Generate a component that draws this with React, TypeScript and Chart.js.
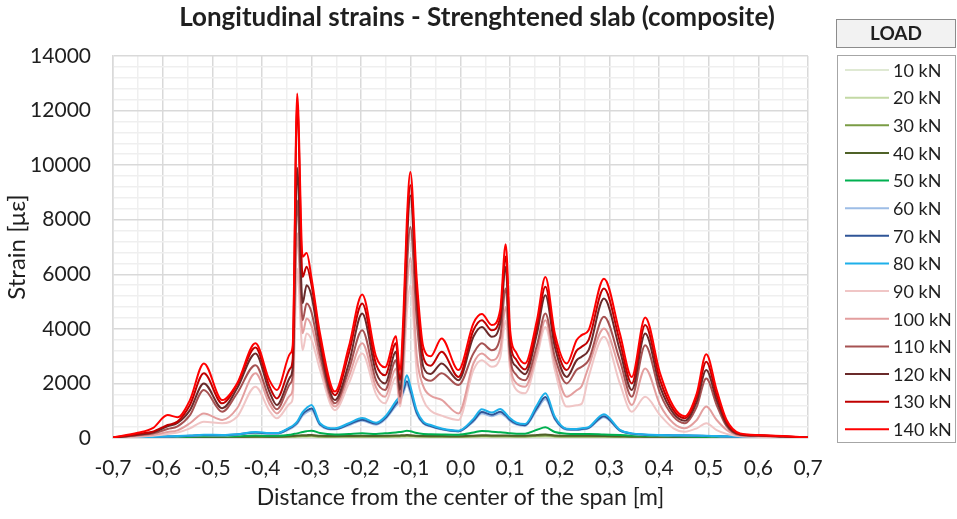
import React, { useEffect, useRef } from 'react';
import { Chart, registerables } from 'chart.js';

Chart.register(...registerables);

const X = [
  -0.70, -0.65, -0.62, -0.59, -0.57, -0.545, -0.517, -0.48,
  -0.45, -0.413, -0.385, -0.37, -0.343, -0.338, -0.329, -0.318,
  -0.31, -0.3, -0.283, -0.253, -0.225, -0.198, -0.17, -0.152,
  -0.13, -0.122, -0.115, -0.108, -0.101, -0.088, -0.075, -0.06,
  -0.038, -0.004, 0.026, 0.043, 0.063, 0.08, 0.091, 0.1,
  0.113, 0.13, 0.154, 0.171, 0.19, 0.214, 0.234, 0.244,
  0.258, 0.289, 0.321, 0.345, 0.372, 0.402, 0.429, 0.452,
  0.476, 0.495, 0.516, 0.536, 0.563, 0.6, 0.65, 0.7,
];

const LOADS = ['10 kN', '20 kN', '30 kN', '40 kN', '50 kN', '60 kN', '70 kN', '80 kN', '90 kN', '100 kN', '110 kN', '120 kN', '130 kN', '140 kN'];
const COLORS = ['#dfe9d3', '#c3d9a5', '#7a9c45', '#4f6228', '#00b050', '#9dbde6', '#2f5597', '#1eb0ea', '#f0c6c6', '#e39e9e', '#a65252', '#6a2a2a', '#c00000', '#ff0000'];

const S10 = [
  0, 2, 4, 6, 6, 8, 9, 9,
  10, 13, 12, 12, 16, 18, 21, 24,
  25, 26, 19, 16, 18, 19, 18, 19,
  21, 22, 24, 26, 25, 20, 18, 16,
  16, 15, 20, 24, 22, 22, 21, 20,
  19, 19, 26, 31, 22, 19, 19, 19,
  19, 18, 15, 13, 12, 10, 9, 9,
  8, 7, 7, 6, 5, 4, 2, 0,
];
const S20 = [
  1, 5, 9, 12, 13, 16, 18, 18,
  21, 26, 24, 24, 33, 36, 42, 48,
  50, 53, 38, 33, 36, 38, 36, 38,
  42, 45, 48, 53, 50, 41, 36, 33,
  33, 30, 41, 48, 45, 45, 42, 40,
  38, 38, 53, 62, 45, 38, 38, 38,
  38, 36, 30, 26, 24, 21, 18, 18,
  16, 15, 14, 12, 10, 8, 4, 1,
];
const S30 = [
  2, 8, 14, 18, 20, 24, 28, 28,
  32, 40, 36, 36, 50, 54, 64, 72,
  76, 80, 58, 50, 54, 58, 54, 58,
  64, 68, 72, 80, 76, 62, 54, 50,
  50, 46, 62, 72, 68, 68, 64, 60,
  58, 58, 80, 94, 68, 58, 58, 58,
  58, 54, 46, 40, 36, 32, 28, 27,
  25, 23, 21, 18, 16, 13, 7, 1,
];
const S40 = [
  2, 10, 20, 25, 30, 35, 40, 40,
  45, 55, 50, 50, 70, 75, 90, 100,
  105, 110, 80, 70, 75, 80, 75, 80,
  90, 95, 100, 110, 105, 85, 75, 70,
  70, 65, 85, 100, 95, 95, 90, 85,
  80, 80, 110, 130, 95, 80, 80, 80,
  80, 75, 65, 55, 50, 45, 40, 38,
  35, 32, 30, 25, 22, 18, 10, 2,
];
const S50 = [
  3, 15, 25, 35, 40, 50, 60, 60,
  70, 90, 80, 80, 120, 140, 170, 220,
  250, 270, 180, 130, 150, 170, 150, 170,
  200, 220, 240, 270, 250, 180, 150, 140,
  130, 120, 200, 260, 230, 210, 190, 170,
  160, 160, 300, 390, 220, 160, 150, 150,
  150, 130, 110, 90, 80, 70, 60, 55,
  50, 45, 40, 35, 30, 25, 12, 3,
];
const S60 = [
  4, 16, 30, 50, 55, 75, 100, 90,
  120, 180, 150, 150, 340, 390, 520, 820,
  940, 1020, 470, 310, 470, 630, 490, 680,
  1180, 1340, 1650, 1960, 1650, 870, 530, 420,
  310, 240, 600, 900, 800, 900, 780, 620,
  490, 440, 1030, 1420, 680, 300, 290, 310,
  350, 760, 260, 150, 110, 95, 90, 85,
  80, 70, 60, 50, 40, 30, 15, 4,
];
const S70 = [
  5, 18, 35, 55, 60, 80, 110, 100,
  130, 200, 170, 170, 370, 420, 560, 880,
  1000, 1080, 500, 330, 500, 670, 520, 720,
  1250, 1420, 1750, 2080, 1750, 920, 560, 440,
  330, 250, 640, 950, 850, 960, 830, 660,
  520, 470, 1100, 1500, 720, 320, 310, 330,
  370, 800, 280, 160, 120, 100, 95, 90,
  85, 75, 65, 55, 45, 35, 18, 5,
];
const S80 = [
  5, 20, 40, 60, 70, 90, 120, 110,
  140, 220, 180, 180, 400, 450, 600, 950,
  1100, 1210, 540, 355, 540, 730, 560, 780,
  1350, 1550, 1900, 2300, 1900, 1000, 600, 475,
  350, 270, 700, 1050, 930, 1060, 900, 720,
  560, 510, 1200, 1640, 780, 340, 330, 355,
  400, 870, 300, 170, 130, 110, 100, 100,
  90, 80, 70, 60, 50, 40, 20, 5,
];
const S90 = [
  5, 50, 80, 150, 200, 355, 600, 540,
  780, 1880, 1000, 720, 1270, 1450, 6200, 3220,
  3830, 3600, 2500, 1020, 2000, 3100, 1600, 1270,
  2240, 1150, 2300, 4600, 5600, 2400, 1400, 1000,
  820, 660, 2490, 2850, 2610, 2950, 4300, 2490,
  1760, 1640, 2980, 4070, 2490, 1150, 1200, 1250,
  2240, 3710, 2000, 960, 1510, 840, 355, 230,
  355, 540, 290, 150, 60, 40, 30, 8,
];
const S100 = [
  8, 70, 110, 220, 280, 540, 900, 660,
  1090, 2370, 1250, 900, 1570, 1800, 7500, 3840,
  4380, 4100, 2800, 1150, 2240, 3470, 1850, 1510,
  2550, 1270, 2700, 5400, 6600, 3000, 1900, 1550,
  1400, 900, 2730, 3100, 2850, 3250, 4800, 2730,
  2000, 1880, 3160, 4320, 2730, 1510, 1750, 1900,
  2610, 4010, 2490, 1210, 2550, 1210, 540, 355,
  660, 1150, 660, 300, 80, 60, 40, 10,
];
const S110 = [
  10, 100, 160, 330, 430, 840, 1760, 960,
  1640, 2670, 1450, 1050, 2000, 2300, 8700, 4320,
  4930, 4600, 3050, 1270, 2490, 3950, 2100, 1760,
  2850, 1510, 3200, 6200, 7730, 4300, 2240, 2100,
  2370, 1940, 3100, 3470, 3220, 3700, 5480, 2980,
  2300, 2120, 3400, 4560, 2980, 2000, 2500, 2610,
  2850, 4440, 2850, 1510, 3400, 1640, 780, 540,
  1150, 2180, 1210, 430, 110, 80, 50, 12,
];
const S120 = [
  12, 120, 200, 430, 550, 1020, 2000, 1090,
  1820, 3100, 1700, 1210, 2240, 2600, 9900, 4940,
  5600, 5200, 3350, 1390, 2730, 4560, 2400, 2000,
  3160, 1760, 3700, 7100, 8890, 5000, 2610, 2350,
  2730, 2120, 3710, 4070, 3710, 4200, 6270, 3220,
  2610, 2340, 3830, 5230, 3340, 2240, 2850, 2980,
  3220, 5110, 3220, 1760, 3830, 1880, 900, 630,
  1330, 2490, 1390, 500, 130, 90, 55, 15,
];
const S130 = [
  15, 150, 230, 475, 600, 1210, 2370, 1270,
  1960, 3320, 1900, 1450, 2550, 2900, 12300, 5900,
  6280, 5600, 3600, 1570, 3100, 4930, 2700, 2300,
  3470, 2120, 4000, 7500, 9260, 5300, 2980, 2650,
  3160, 2240, 3950, 4320, 3950, 4450, 6650, 3590,
  2850, 2510, 4070, 5540, 3590, 2490, 3200, 3340,
  3590, 5480, 3530, 2000, 4140, 2120, 1020, 720,
  1510, 2790, 1570, 580, 150, 100, 60, 18,
];
const S140 = [
  20, 190, 360, 840, 760, 1390, 2730, 1390,
  2000, 3470, 2120, 1760, 3100, 3400, 12630, 6640,
  6780, 5850, 3830, 1700, 3340, 5260, 2980, 2590,
  3730, 2490, 4500, 8000, 9750, 5780, 3340, 3000,
  3650, 2490, 4200, 4540, 4140, 4700, 7100, 3950,
  3100, 2730, 4320, 5900, 3830, 2730, 3590, 3770,
  3950, 5840, 3830, 2240, 4420, 2370, 1150, 800,
  1640, 3070, 1760, 660, 170, 110, 70, 20,
];

const TITLE = 'Longitudinal strains - Strenghtened slab (composite)';
const X_TITLE = 'Distance from the center of the span [m]';
const Y_TITLE = 'Strain [με]';
const LEGEND_TITLE = 'LOAD';

const FONT = 'Lato';
const TEXT = '#1f1f1f';

export default function App() {
  const ref = useRef<HTMLCanvasElement>(null);

  useEffect(() => {
    const series = [S10, S20, S30, S40, S50, S60, S70, S80, S90, S100, S110, S120, S130, S140];
    const datasets = series.map((s, i) => ({
      label: LOADS[i],
      data: X.map((x, j) => ({ x, y: s[j] })),
      borderColor: COLORS[i],
      backgroundColor: COLORS[i],
      borderWidth: 2,
      pointRadius: 0,
      pointHoverRadius: 0,
      cubicInterpolationMode: 'monotone' as const,
      fill: false,
      order: series.length - 1 - i,
    }));

    const decor = {
      id: 'decor',
      afterDraw(chart: any) {
        const ctx = chart.ctx as CanvasRenderingContext2D;
        ctx.save();
        // title
        ctx.fillStyle = TEXT;
        ctx.font = `bold 26px ${FONT}`;
        ctx.textAlign = 'center';
        ctx.textBaseline = 'middle';
        ctx.fillText(TITLE, 477, 18);
        // legend header
        ctx.fillStyle = '#f2f2f2';
        ctx.fillRect(836.5, 19.5, 119, 28);
        ctx.strokeStyle = '#8c8c8c';
        ctx.lineWidth = 1;
        ctx.strokeRect(836.5, 19.5, 119, 28);
        ctx.fillStyle = TEXT;
        ctx.font = `bold 19px ${FONT}`;
        ctx.fillText(LEGEND_TITLE, 896, 34);
        // legend box
        ctx.fillStyle = '#ffffff';
        ctx.fillRect(837.5, 55.5, 118, 387);
        ctx.strokeStyle = '#a6a6a6';
        ctx.strokeRect(837.5, 55.5, 118, 387);
        ctx.font = `18px ${FONT}`;
        ctx.textAlign = 'left';
        chart.data.datasets.forEach((ds: any, i: number) => {
          const y = 70 + i * 27.64;
          ctx.strokeStyle = ds.borderColor;
          ctx.lineWidth = 2;
          ctx.beginPath();
          ctx.moveTo(845, y);
          ctx.lineTo(889, y);
          ctx.stroke();
          ctx.fillStyle = TEXT;
          ctx.fillText(ds.label, 893, y + 1);
        });
        ctx.restore();
      },
    };

    const chart = new Chart(ref.current as HTMLCanvasElement, {
      type: 'line',
      data: { datasets: datasets as any },
      options: {
        animation: false,
        responsive: false,
        devicePixelRatio: 1,
        layout: { padding: { top: 56, right: 149, left: 0, bottom: 0 } },
        plugins: { legend: { display: false }, tooltip: { enabled: false }, title: { display: false } },
        scales: {
          x: {
            type: 'linear',
            min: -0.7,
            max: 0.7,
            afterFit: (s: any) => { s.height = 81; },
            ticks: {
              stepSize: 0.05,
              autoSkip: false,
              maxRotation: 0,
              padding: 18,
              color: TEXT,
              font: { family: FONT, size: 21 },
              callback: (v: any) => {
                const k = Math.round(Number(v) * 100);
                if (k % 10 !== 0) return '';
                return (k / 100).toFixed(1).replace('.', ',');
              },
            },
            grid: {
              drawTicks: false,
              lineWidth: 1.5,
              color: (c: any) => (Math.round(c.tick.value * 100) % 10 === 0 ? '#d9d9d9' : '#efefef'),
            },
            border: { display: true, color: '#d9d9d9', width: 1.5 },
            title: {
              display: true,
              text: X_TITLE,
              color: TEXT,
              font: { family: FONT, size: 23 },
              padding: { top: 0, bottom: 8 },
            },
          },
          y: {
            min: 0,
            max: 14000,
            afterFit: (s: any) => { s.width = 113; },
            ticks: {
              stepSize: 400,
              autoSkip: false,
              padding: 22,
              color: TEXT,
              font: { family: FONT, size: 21 },
              callback: (v: any) => (Math.round(Number(v)) % 2000 === 0 ? String(Math.round(Number(v))) : ''),
            },
            grid: {
              drawTicks: false,
              lineWidth: 1.5,
              color: (c: any) => (Math.round(c.tick.value) % 2000 === 0 ? '#d9d9d9' : '#efefef'),
            },
            border: { display: true, color: '#d9d9d9', width: 1.5 },
            title: {
              display: true,
              text: Y_TITLE,
              color: TEXT,
              font: { family: FONT, size: 24 },
              padding: { top: 3, bottom: 0 },
            },
          },
        },
      },
      plugins: [decor],
    });
    return () => chart.destroy();
  }, []);

  return (
    <div style={{ position: 'absolute', left: 0, top: 0, width: 957, height: 519, background: '#ffffff' }}>
      <canvas ref={ref} width={957} height={519} style={{ width: 957, height: 519, display: 'block' }} />
    </div>
  );
}
